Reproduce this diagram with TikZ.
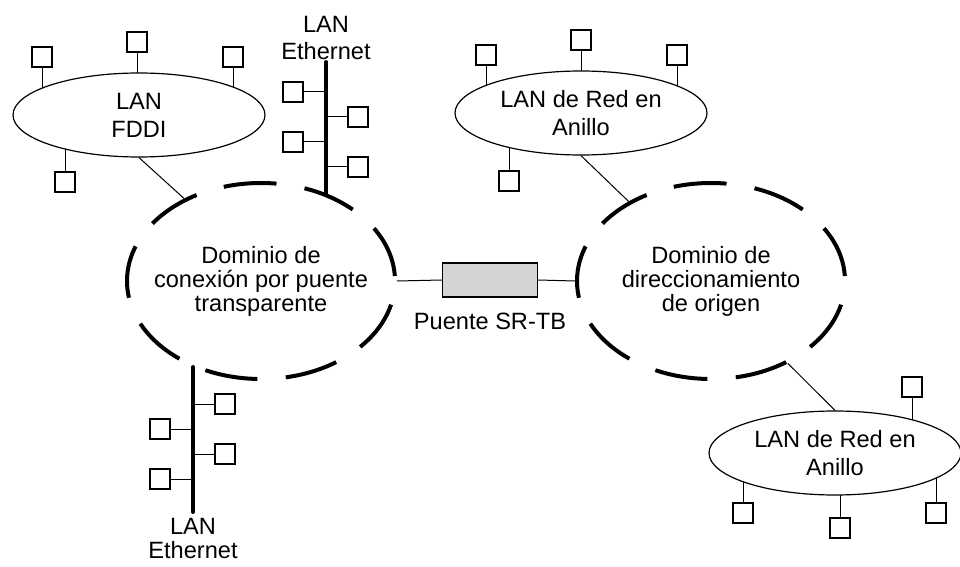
\documentclass[tikz,border=0pt]{standalone}
\usepackage{fontspec}
\setmainfont{Liberation Sans}
\usetikzlibrary{shapes,backgrounds,calc}

\begin{document}
\begin{tikzpicture}
[x=0.5pt,y=-0.5pt,
font=\fontsize{11.8}{12}\selectfont,
%
station/.style={shape=rectangle,draw=black,line width=0.6pt,fill=white,minimum size=10pt,inner sep=0pt},
ring/.style={shape=ellipse,draw=black,line width=0.6pt,fill=white,minimum width=126pt,minimum height=42pt,inner sep=0pt,align=center,font=\fontsize{11.8}{14}\selectfont},
dominio/.style={shape=ellipse,draw=black,line width=2pt,dash pattern=on 26.5pt off 14.2pt,dash phase=38.2pt,minimum width=134pt,minimum height=98pt,inner xsep=-8pt,inner ysep=0pt,align=center},
bridge/.style={shape=rectangle,draw=black,line width=0.6pt,fill=black!17,minimum width=47.5pt,minimum height=17pt},
%
bus/.style={line width=2pt,line cap=round},
link/.style={line width=0.5pt}]
%
\useasboundingbox (0,0) rectangle (960,567);
%
% domains and bridge
\node (domL) [dominio] at (261,281) {Dominio de\\conexión por puente\\transparente};
\node (domR) [dominio] at (711,281) {Dominio de\\direccionamiento\\de origen};
\node (srtb) [bridge] at (490,280) {};
\node (srtbl) [below=4pt] at (srtb.south) {Puente SR-TB};
\draw[link] (domL.east) -- (srtb.west);
\draw[link] (srtb.east) -- (domR.west);
%
% FDDI
\node (fddi) [ring] at (139,115) {LAN\\FDDI};
\foreach \n/\x/\y in {f1/42/57,f2/137/42,f3/233/57,f4/65/182}
\node (\n) [station] at (\x,\y) {};
%
% token rings
\node (tr1) [ring] at (581,113) {LAN de Red en\\Anillo};
\foreach \n/\x/\y in {r1/486/55,r2/581/40,r3/677/55,r4/509/181}
\node (\n) [station] at (\x,\y) {};
\node (tr2) [ring] at (835,453) {LAN de Red en\\Anillo};
\foreach \n/\x/\y in {q1/912/387,q2/743/513,q3/840/528,q4/936/513}
\node (\n) [station] at (\x,\y) {};
%
\begin{pgfonlayer}{background}
\foreach \s in {f1,f2,f3,f4} \draw[link] (\s) -- (\s |- fddi.center);
\foreach \s in {r1,r2,r3,r4} \draw[link] (\s) -- (\s |- tr1.center);
\foreach \s in {q1,q2,q3,q4} \draw[link] (\s) -- (\s |- tr2.center);
\end{pgfonlayer}
%
\draw[link] (fddi.south) -- (domL.133);
\draw[link] (tr1.south) -- (domR.136);
\draw[link] (domR.-47) -- (tr2.north);
%
% Ethernet (top)
\coordinate (eth1a) at (326,62);
\coordinate (eth1b) at (326,194);
\draw[bus] (eth1a) -- (eth1b);
\node (eth1l) [above,align=center,inner sep=1pt,font=\fontsize{11.8}{13.3}\selectfont] at (eth1a) {LAN\\Ethernet};
\foreach \n/\x/\y in {e1/293/92,e2/293/142,e3/358/117,e4/358/167}
{\node (\n) [station] at (\x,\y) {};
\draw[link] (\n) -- (\n -| eth1a);}
%
% Ethernet (bottom)
\coordinate (eth2a) at (193,367);
\coordinate (eth2b) at (193,512);
\draw[bus] (eth2a) -- (eth2b);
\node (eth2l) [below,align=center,inner sep=3pt] at (eth2b) {LAN\\Ethernet};
\foreach \n/\x/\y in {e5/225/404,e6/225/454,e7/160/429,e8/160/479}
{\node (\n) [station] at (\x,\y) {};
\draw[link] (\n) -- (\n -| eth2a);}
\end{tikzpicture}
\end{document}
